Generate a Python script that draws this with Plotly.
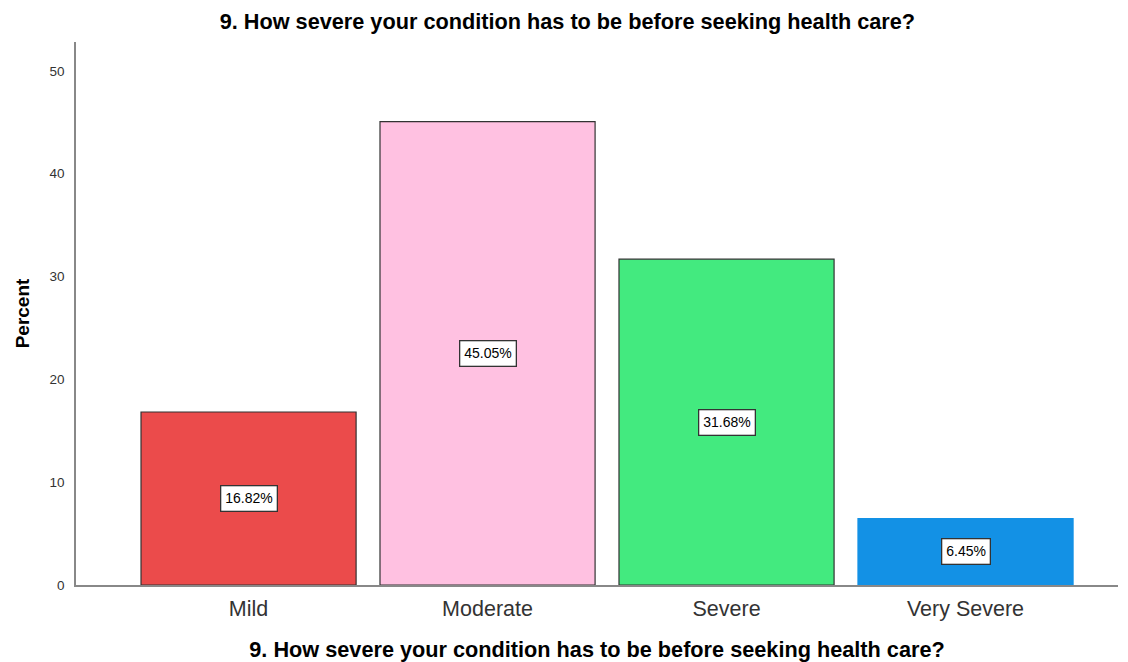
import plotly.graph_objects as go

# Survey responses: how severe a condition must be before seeking care
categories = ["Mild", "Moderate", "Severe", "Very Severe"]
percents = [16.82, 45.05, 31.68, 6.45]
bar_colors = ["#EB4B4B", "#FFC1E1", "#43EA7F", "#1391E5"]
edge_colors = ["#333333", "#333333", "#333333", "#1391E5"]
y_ticks = [0, 10, 20, 30, 40, 50]

question = "9. How severe your condition has to be before seeking health care?"
font_family = "Arial, Liberation Sans, sans-serif"

fig = go.Figure()
fig.add_trace(go.Bar(
    x=list(range(len(categories))),
    y=percents,
    width=0.9,
    marker=dict(color=bar_colors, line=dict(color=edge_colors, width=1.2)),
    hoverinfo="skip",
))

# Boxed value labels at the middle of each bar
for i, v in enumerate(percents):
    fig.add_annotation(
        x=i, y=v / 2, text=f"{v:.2f}%", showarrow=False,
        font=dict(family=font_family, size=14, color="#000000"),
        bgcolor="#FFFFFF", bordercolor="#333333", borderwidth=1.3, borderpad=4,
    )

fig.update_layout(
    width=1128, height=662,
    margin=dict(l=76, r=10, t=42, b=77, autoexpand=False),
    paper_bgcolor="#FFFFFF", plot_bgcolor="#FFFFFF",
    showlegend=False,
    title=dict(text=question, x=0.503, xanchor="center", y=0.967, yanchor="middle",
               font=dict(family=font_family, size=21.7, color="#000000", weight="bold")),
    font=dict(family=font_family),
)

fig.update_xaxes(
    range=[-0.722, 3.638],
    tickmode="array", tickvals=list(range(len(categories))), ticktext=categories,
    tickfont=dict(size=21.5, color="#333333"),
    ticks="", ticklabelstandoff=3,
    showline=True, linecolor="#888888", linewidth=1.5,
    showgrid=False, zeroline=False,
    title=dict(text=question, standoff=28,
               font=dict(size=21.7, color="#000000", weight="bold")),
)

fig.update_yaxes(
    range=[0, 52.8],
    tickmode="array", tickvals=y_ticks,
    tickfont=dict(size=13.5, color="#333333"),
    ticks="", ticklabelstandoff=7,
    showline=True, linecolor="#888888", linewidth=1.5,
    showgrid=False, zeroline=False,
    title=dict(text="Percent", standoff=15,
               font=dict(size=19, color="#000000", weight="bold")),
)

fig.write_html("out.html")
